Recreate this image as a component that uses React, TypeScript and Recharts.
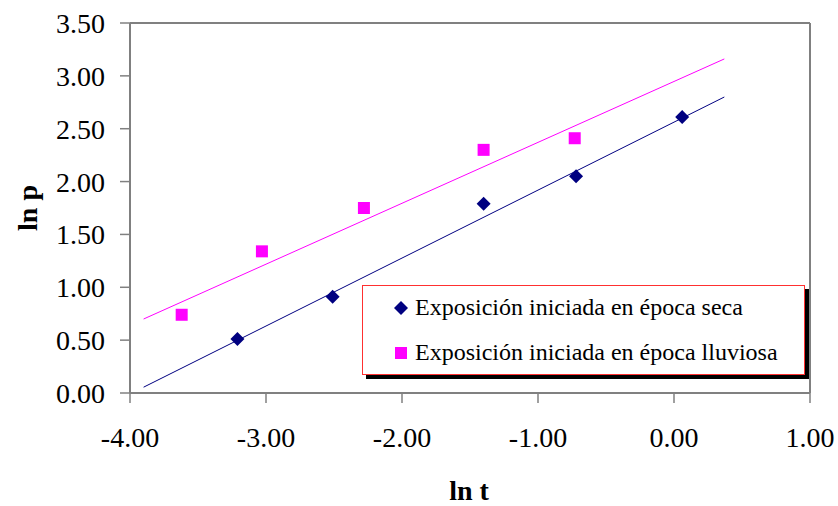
import React from 'react';
import { ScatterChart, Scatter, XAxis, YAxis, ReferenceLine, Legend } from 'recharts';

const xTicks = [-4, -3, -2, -1, 0, 1];
const yTicks = [0, 0.5, 1, 1.5, 2, 2.5, 3, 3.5];

const dryX = [-3.21, -2.51, -1.4, -0.72, 0.06];
const dryY = [0.51, 0.91, 1.79, 2.05, 2.61];
const wetX = [-3.62, -3.03, -2.28, -1.4, -0.73];
const wetY = [0.74, 1.34, 1.75, 2.3, 2.41];

const dryTrendX = [-3.9, 0.37];
const dryTrendY = [0.055, 2.8];
const wetTrendX = [-3.9, 0.37];
const wetTrendY = [0.7, 3.16];

const NAVY = '#000080';
const MAGENTA = '#ff00ff';
const GRAY = '#808080';
const FONT = 'Liberation Serif, Times New Roman, Times, serif';

const zip = (xs: number[], ys: number[]) => xs.map((x, i) => ({ x, y: ys[i] }));

const dryData = zip(dryX, dryY);
const wetData = zip(wetX, wetY);
const dryTrend = zip(dryTrendX, dryTrendY);
const wetTrend = zip(wetTrendX, wetTrendY);

const Diamond = (props: any) => {
  const { cx, cy } = props;
  const r = 7;
  return <polygon points={`${cx},${cy - r} ${cx + r},${cy} ${cx},${cy + r} ${cx - r},${cy}`} fill={NAVY} />;
};

const Square = (props: any) => {
  const { cx, cy } = props;
  const s = 12;
  return <rect x={cx - s / 2} y={cy - s / 2} width={s} height={s} fill={MAGENTA} />;
};

const Empty = () => <g />;

const LegendBox = () => (
  <div
    style={{
      width: 441,
      height: 88,
      border: '1px solid #ff3030',
      boxShadow: '4px 4px 0 0 #000',
      background: '#fff',
      fontFamily: FONT,
      fontSize: 24,
      color: '#000',
      boxSizing: 'content-box',
    }}
  >
    <div style={{ position: 'absolute', left: 32, top: 9, display: 'flex', alignItems: 'center', whiteSpace: 'nowrap' }}>
      <svg width={14} height={14} style={{ marginRight: 7 }}>
        <polygon points="7,0 14,7 7,14 0,7" fill={NAVY} />
      </svg>
      <span>Exposición iniciada en época seca</span>
    </div>
    <div style={{ position: 'absolute', left: 33, top: 54, display: 'flex', alignItems: 'center', whiteSpace: 'nowrap' }}>
      <svg width={12} height={12} style={{ marginRight: 8 }}>
        <rect x={0} y={0} width={12} height={12} fill={MAGENTA} />
      </svg>
      <span>Exposición iniciada en época lluviosa</span>
    </div>
  </div>
);

export default function App() {
  const tickStyle = { fontFamily: FONT, fontSize: 28, fill: '#000' };
  return (
    <div style={{ position: 'absolute', left: 0, top: 0, width: 838, height: 506, background: '#fff', fontFamily: FONT }}>
      <ScatterChart
        width={838}
        height={506}
        margin={{ top: 23, right: 28, bottom: 53, left: 0 }}
        style={{ fontFamily: FONT }}
      >
        <XAxis
          type="number"
          dataKey="x"
          domain={[-4, 1]}
          ticks={xTicks}
          tickFormatter={(v: number) => v.toFixed(2)}
          height={60}
          tickSize={10}
          tickMargin={24}
          axisLine={{ stroke: GRAY, strokeWidth: 2 }}
          tickLine={{ stroke: GRAY, strokeWidth: 1.5 }}
          tick={tickStyle}
          interval={0}
          allowDataOverflow
          label={{
            content: () => (
              <text x={469} y={500} textAnchor="middle" style={{ fontFamily: FONT }} fontSize={28} fontWeight="bold" fill="#000">
                ln t
              </text>
            ),
          }}
        />
        <YAxis
          type="number"
          dataKey="y"
          domain={[0, 3.5]}
          ticks={yTicks}
          tickFormatter={(v: number) => v.toFixed(2)}
          width={130}
          tickSize={10}
          tickMargin={15}
          axisLine={{ stroke: GRAY, strokeWidth: 2 }}
          tickLine={{ stroke: GRAY, strokeWidth: 1.5 }}
          tick={tickStyle}
          interval={0}
          allowDataOverflow
          label={{
            content: () => (
              <text
                x={27}
                y={208}
                transform="rotate(-90 27 208)"
                textAnchor="middle"
                dominantBaseline="central"
                style={{ fontFamily: FONT }}
                fontSize={28}
                fontWeight="bold"
                fill="#000"
              >
                ln p
              </text>
            ),
          }}
        />
        <ReferenceLine y={3.5} stroke={GRAY} strokeWidth={2} />
        <ReferenceLine x={1} stroke={GRAY} strokeWidth={2} />
        <Scatter
          name="trendDry"
          data={dryTrend}
          line={{ stroke: NAVY, strokeWidth: 1 }}
          shape={Empty}
          isAnimationActive={false}
          legendType="none"
        />
        <Scatter
          name="trendWet"
          data={wetTrend}
          line={{ stroke: MAGENTA, strokeWidth: 1 }}
          shape={Empty}
          isAnimationActive={false}
          legendType="none"
        />
        <Scatter name="Exposición iniciada en época seca" data={dryData} shape={Diamond} isAnimationActive={false} />
        <Scatter name="Exposición iniciada en época lluviosa" data={wetData} shape={Square} isAnimationActive={false} />
        <Legend
          layout="horizontal"
          verticalAlign="middle"
          align="center"
          content={LegendBox}
          wrapperStyle={{ position: 'absolute', left: 362, top: 285, width: 443, height: 90 }}
        />
      </ScatterChart>
    </div>
  );
}
